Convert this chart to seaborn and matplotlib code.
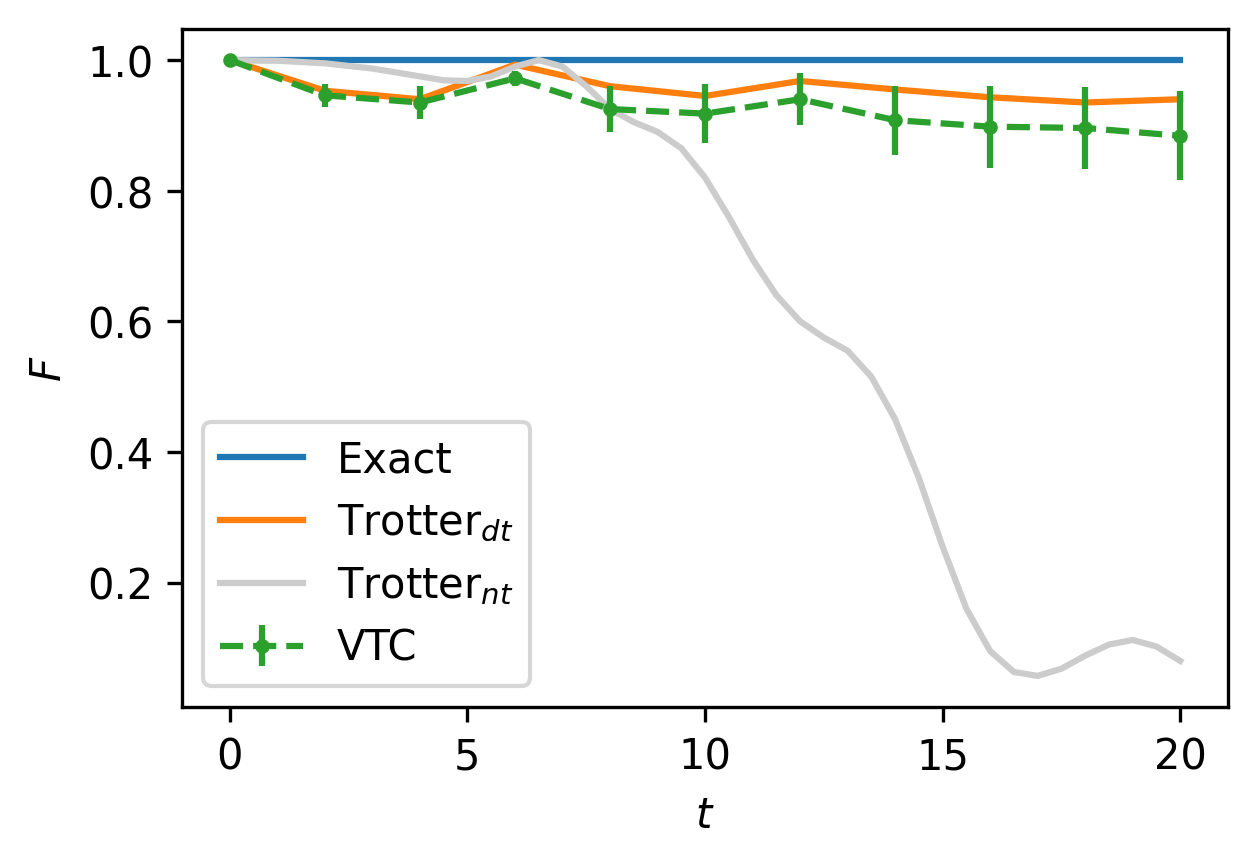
import numpy as np
import matplotlib
matplotlib.use("Agg")
import matplotlib.pyplot as plt
import seaborn as sns

t = [0, 2, 4, 6, 8, 10, 12, 14, 16, 18, 20]
exact = [1.0] * 11
trotter_dt = [1.0, 0.953, 0.94, 0.993, 0.96, 0.945, 0.968, 0.955, 0.943, 0.935, 0.94]
vtc = [1.0, 0.946, 0.935, 0.972, 0.925, 0.918, 0.94, 0.908, 0.898, 0.896, 0.884]
vtc_err = [0.0, 0.018, 0.025, 0.012, 0.035, 0.045, 0.04, 0.053, 0.063, 0.063, 0.068]

t_nt = [0, 1, 2, 3, 4, 4.5, 5, 5.5, 6, 6.5, 7, 7.5, 8, 8.5, 9, 9.5, 10, 10.5, 11,
        11.5, 12, 12.5, 13, 13.5, 14, 14.5, 15, 15.5, 16, 16.5, 17, 17.5, 18,
        18.5, 19, 19.5, 20]
trotter_nt = [1.0, 0.999, 0.995, 0.987, 0.975, 0.969, 0.968, 0.975, 0.99, 1.0,
              0.99, 0.96, 0.925, 0.905, 0.89, 0.865, 0.82, 0.76, 0.695, 0.64,
              0.60, 0.575, 0.555, 0.515, 0.45, 0.36, 0.255, 0.16, 0.095, 0.063,
              0.057, 0.068, 0.088, 0.105, 0.112, 0.102, 0.08]

pal = sns.color_palette("tab10")
fig, ax = plt.subplots(figsize=(4.193, 2.883), dpi=300)
sns.lineplot(x=t, y=exact, ax=ax, color=pal[0], label="Exact")
sns.lineplot(x=t, y=trotter_dt, ax=ax, color=pal[1], label="Trotter$_{dt}$")
sns.lineplot(x=t_nt, y=trotter_nt, ax=ax, color="0.8", label="Trotter$_{nt}$")
ax.errorbar(t, vtc, yerr=vtc_err, fmt=".--", color=pal[2], markersize=5, label="VTC")
ax.set_xlim(-1, 21)
ax.set_ylim(0.01, 1.047)
ax.set_yticks([0.2, 0.4, 0.6, 0.8, 1.0])
ax.set_xticks([0, 5, 10, 15, 20])
ax.set_xlabel("$t$")
ax.set_ylabel("$F$")
ax.legend(loc="lower left")
fig.subplots_adjust(left=0.145, right=0.976, top=0.965, bottom=0.182)
plt.savefig("out.png", dpi=300)
plt.close()
